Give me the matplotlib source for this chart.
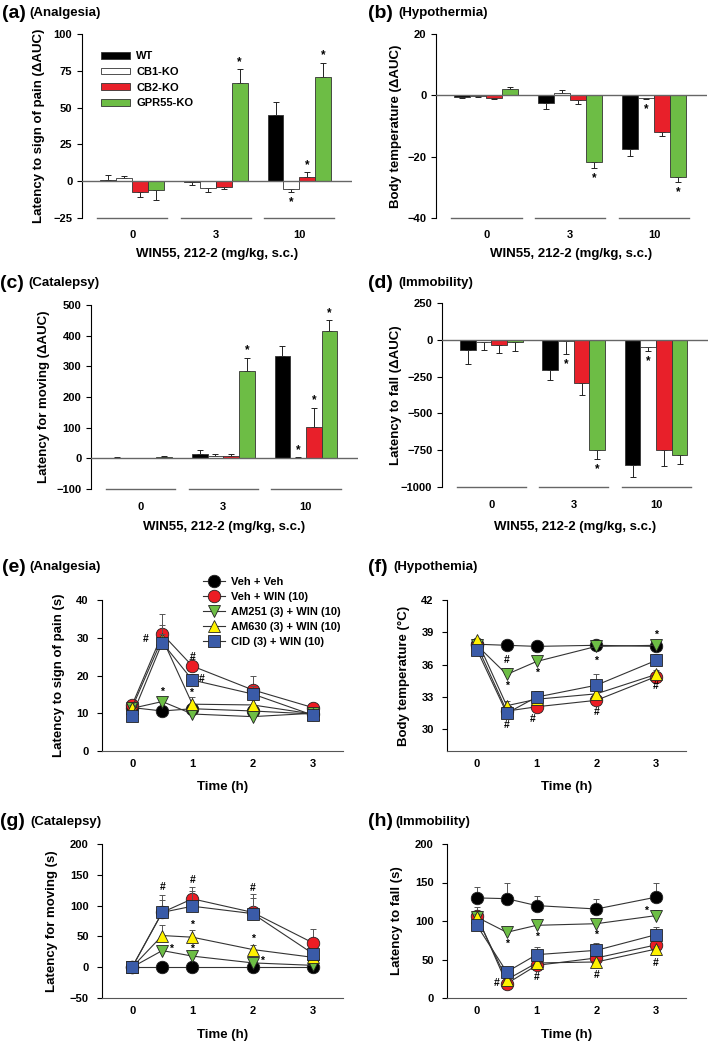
import numpy as np
import matplotlib
matplotlib.use("Agg")
from matplotlib import pyplot as plt

plt.rcParams['font.family'] = ['Liberation Sans', 'DejaVu Sans']
plt.rcParams['font.weight'] = 'bold'
plt.rcParams['axes.labelweight'] = 'bold'

W, H = 709, 1046

# ---- bar panels (a-d): doses 0, 3, 10 mg/kg ----
doses = ['0', '3', '10']
genotypes = ['WT', 'CB1-KO', 'CB2-KO', 'GPR55-KO']
bar_colors = ['black', 'white', '#E8202A', '#6DBD45']

a_vals = [[0.5, -0.5, 45], [2, -4.5, -5], [-7.5, -4, 3], [-6, 67, 71]]
a_errs = [[3.5, 2, 9], [1.5, 3, 2], [3.2, 1.5, 3], [6.7, 9, 9.5]]
a_stars = [(3, 1), (1, 2), (2, 2), (3, 2)]

b_vals = [[-0.5, -2.5, -17.5], [-0.3, 0.8, -0.8], [-1.0, -1.5, -11.8], [2.2, -21.7, -26.5]]
b_errs = [[0.5, 1.9, 2.2], [0.4, 1.0, 0.5], [0.3, 1.2, 1.4], [0.6, 2.0, 1.9]]
b_stars = [(3, 1), (1, 2), (3, 2)]

c_vals = [[2, 14, 335], [1, 8, 2], [1, 9, 102], [4, 285, 415]]
c_errs = [[2, 12, 30], [1, 6, 1], [1, 6, 63], [4, 43, 35]]
c_stars = [(3, 1), (1, 2), (2, 2), (3, 2)]

d_vals = [[-68, -208, -848], [-18, -8, -50], [-36, -294, -751], [-18, -751, -783]]
d_errs = [[99, 63, 84], [52, 89, 29], [54, 84, 109], [59, 59, 59]]
d_stars = [(1, 1), (3, 1), (1, 2)]

# ---- time-course panels (e-h) ----
times = [0, 0.5, 1, 2, 3]
groups = ['Veh + Veh', 'Veh + WIN (10)', 'AM251 (3) + WIN (10)',
          'AM630 (3) + WIN (10)', 'CID (3) + WIN (10)']
grp_colors = ['black', '#EC1C24', '#6DBE45', '#FFF200', '#3A5BA8']
grp_markers = ['o', 'o', 'v', '^', 's']

e_vals = [[11.5, 10.6, 11.2, 10.6, 9.8], [12.2, 31.0, 22.5, 16.2, 11.5],
          [11.3, 13.1, 9.8, 9.1, 10.0], [11.5, 29.8, 12.4, 12.2, 9.8],
          [9.4, 28.7, 18.8, 15.1, 9.5]]
e_errs = [[0.8, 0.8, 0.8, 0.8, 0.5], [1, 5.2, 1.8, 3.7, 0.8],
          [0.8, 1.3, 0.8, 0.5, 0.5], [0.8, 3.5, 2.0, 1.5, 0.5],
          [0.6, 2.2, 1.6, 2.0, 0.5]]
e_notes = [(0.22, 29.6, '#'), (0.5, 15.7, '*'), (1.0, 24.8, '#'),
           (1.15, 19.2, '#'), (0.97, 15.4, '*')]

f_vals = [[37.9, 37.8, 37.7, 37.8, 37.7], [37.8, 31.7, 32.1, 32.7, 34.9],
          [37.8, 35.1, 36.3, 37.7, 37.8], [38.3, 32.2, 32.8, 33.3, 35.1],
          [37.4, 31.5, 33.0, 34.1, 36.4]]
f_errs = [[0.2, 0.2, 0.2, 0.2, 0.2], [0.2, 0.4, 0.4, 0.4, 0.3],
          [0.2, 0.6, 0.3, 0.2, 0.2], [0.2, 0.4, 0.5, 0.5, 0.4],
          [0.2, 0.4, 0.6, 1.0, 0.6]]
f_notes = [(0.5, 36.4, '#'), (0.5, 34.0, '*'), (1.0, 35.2, '*'), (2.0, 36.4, '*'),
           (3.0, 38.8, '*'), (0.5, 30.4, '#'), (0.93, 31.0, '#'), (2.0, 31.6, '#'),
           (3.0, 34.0, '#')]

g_vals = [[0, 0, 0, 0, 0], [0, 89, 111, 89, 39.5], [0, 27, 18, 7, 3],
          [0, 51.4, 48.7, 28.7, 16], [0, 89, 99, 87, 22]]
g_errs = [[0, 0, 0, 0, 0], [0, 20, 19, 30, 23], [0, 7, 5, 3, 2],
          [0, 17, 12, 8, 4], [0, 29, 25, 25, 5]]
g_notes = [(0.5, 130, '#'), (1.0, 141, '#'), (2.0, 128, '#'), (1.0, 68, '*'),
           (0.65, 30, '*'), (1.0, 30, '*'), (2.0, 46, '*'), (2.15, 11, '*')]

h_vals = [[130, 129, 120, 115.6, 131], [107, 18.6, 42.4, 52, 69],
          [105, 85.3, 94.4, 96.5, 107], [105, 23.8, 45.5, 46.8, 63.6],
          [94.4, 33.8, 56.3, 61.9, 82.3]]
h_errs = [[14, 20, 13, 13, 18], [11, 3, 4, 4, 4], [4, 4, 8.6, 3, 7.7],
          [4, 3, 4, 4, 4], [5, 4, 9.5, 9.5, 9.5]]
h_notes = [(0.5, 70, '*'), (1.0, 80, '*'), (2.0, 82, '*'), (2.83, 113, '*'),
           (0.33, 20, '#'), (1.0, 27, '#'), (2.0, 30, '#'), (3.0, 46, '#')]


def box(l, t, r, b):
    return [l / W, 1 - b / H, (r - l) / W, (b - t) / H]


fig = plt.figure(figsize=(W / 100, H / 100), dpi=100)


def bar_panel(rect, vals, errs, stars, ylim, yticks, ylabel, ylab_px, xlab_px):
    ax = fig.add_axes(box(*rect))
    x = np.arange(3)
    w = 0.19
    for i in range(4):
        v = np.array(vals[i], float)
        e = np.array(errs[i], float)
        xs = x + (i - 1.5) * w
        ax.bar(xs, v, w, color=bar_colors[i], edgecolor='#333333', lw=0.6, zorder=2)
        up = np.where(v >= 0, e, 0)
        lo = np.where(v < 0, e, 0)
        ax.errorbar(xs, v, yerr=[lo, up], fmt='none', ecolor='#222222',
                    elinewidth=0.7, capsize=2.5, capthick=0.7, zorder=1)
    for gi, di in stars:
        v = vals[gi][di]
        e = errs[gi][di]
        xs = x[di] + (gi - 1.5) * w
        if v >= 0:
            ax.annotate('*', (xs, v + e), xytext=(0, 1), textcoords='offset points',
                        ha='center', va='bottom', fontsize=8.5)
        else:
            ax.annotate('*', (xs, v - e), xytext=(0, -3), textcoords='offset points',
                        ha='center', va='top', fontsize=8.5)
    ax.axhline(0, color='#666666', lw=1, zorder=3)
    for c in x:
        ax.plot([c - 0.42, c + 0.42], [ylim[0], ylim[0]], color='#666666', lw=1,
                clip_on=False)
    ax.set_xlim(-0.6, 2.63)
    ax.set_ylim(*ylim)
    ax.set_yticks(yticks)
    ax.set_xticks(x, doses)
    ax.tick_params(axis='x', length=0, pad=9, labelsize=8)
    ax.tick_params(axis='y', direction='out', length=3.5, width=0.8, labelsize=8)
    for s in ['top', 'right', 'bottom']:
        ax.spines[s].set_visible(False)
    ax.spines['left'].set_linewidth(0.8)
    ax.set_ylabel(ylabel, fontsize=9.5)
    ax.yaxis.set_label_coords((ylab_px - rect[0]) / (rect[2] - rect[0]), 0.5)
    ax.set_xlabel('WIN55, 212-2 (mg/kg, s.c.)', fontsize=9.5)
    ax.xaxis.set_label_coords(0.5, (rect[3] - xlab_px + 7) / (rect[3] - rect[1]))
    return ax


def line_panel(rect, vals, errs, notes, ylim, yticks, ylabel, ylab_px, xlab_px):
    ax = fig.add_axes(box(*rect))
    t = np.array(times)
    lines = []
    for i in range(5):
        v = np.array(vals[i], float)
        e = np.array(errs[i], float)
        ax.errorbar(t, v, yerr=[np.zeros_like(e), e], fmt='none', ecolor='#555555',
                    elinewidth=0.7, capsize=2.5, capthick=0.7, zorder=1 + i)
        ms = 8 if grp_markers[i] == 's' else 9
        ln, = ax.plot(t, v, '-', color='#333333', lw=0.8, marker=grp_markers[i],
                      ms=ms, mfc=grp_colors[i], mec='#222222', mew=0.6,
                      zorder=2 + i, clip_on=False)
        lines.append(ln)
    for tx, ty, s in notes:
        ax.text(tx, ty, s, ha='center', va='center', fontsize=7.5)
    ax.set_xlim(-0.5, 3.5)
    ax.set_ylim(*ylim)
    ax.set_yticks(yticks)
    ax.set_xticks([0, 1, 2, 3])
    ax.tick_params(direction='out', length=0, width=0.8, labelsize=8, pad=6)
    ax.tick_params(axis='y', length=3.5)
    for s in ['top', 'right']:
        ax.spines[s].set_visible(False)
    ax.spines['left'].set_linewidth(0.8)
    ax.spines['bottom'].set_linewidth(0.8)
    ax.spines['bottom'].set_color('#555555')
    ax.set_ylabel(ylabel, fontsize=9.5)
    ax.yaxis.set_label_coords((ylab_px - rect[0]) / (rect[2] - rect[0]), 0.5)
    ax.set_xlabel('Time (h)', fontsize=9.5)
    ax.xaxis.set_label_coords(0.5, (rect[3] - xlab_px + 7) / (rect[3] - rect[1]))
    return ax, lines


ax_a = bar_panel((82, 34, 352, 218), a_vals, a_errs, a_stars, (-25, 100),
                 [-25, 0, 25, 50, 75, 100], 'Latency to sign of pain (\u0394AUC)', 45, 255)
ax_b = bar_panel((436, 34, 707, 218), b_vals, b_errs, b_stars, (-40, 20),
                 [-40, -20, 0, 20], 'Body temperature (\u0394AUC)', 402, 255)
ax_c = bar_panel((91, 305, 358, 489), c_vals, c_errs, c_stars, (-100, 500),
                 [-100, 0, 100, 200, 300, 400, 500], 'Latency for moving (\u0394AUC)', 50, 528)
ax_d = bar_panel((442, 303, 708, 487), d_vals, d_errs, d_stars, (-1000, 250),
                 [-1000, -750, -500, -250, 0, 250], 'Latency to fall (\u0394AUC)', 402, 528)

handles = ax_a.containers[0::2]
ax_a.legend(handles[:4], genotypes, loc='upper left', bbox_to_anchor=(0.07, 0.905),
            frameon=False, fontsize=8, handlelength=2.6, handleheight=0.55,
            labelspacing=0.5, borderpad=0, borderaxespad=0, handletextpad=0.6)

ax_e, lines_e = line_panel((102, 600, 343, 751), e_vals, e_errs, e_notes, (0, 40),
                           [0, 10, 20, 30, 40], 'Latency to sign of pain (s)', 65, 788)
ax_f, _ = line_panel((447, 600, 686, 751), f_vals, f_errs, f_notes, (28, 42),
                     [30, 33, 36, 39, 42], 'Body temperature (\u00b0C)', 410, 788)
ax_g, _ = line_panel((102, 844, 343, 998), g_vals, g_errs, g_notes, (-50, 200),
                     [-50, 0, 50, 100, 150, 200], 'Latency for moving (s)', 58, 1036)
ax_h, _ = line_panel((447, 844, 686, 998), h_vals, h_errs, h_notes, (0, 200),
                     [0, 50, 100, 150, 200], 'Latency to fall (s)', 403, 1036)

ax_e.legend(lines_e, groups, loc='upper left', bbox_to_anchor=(0.42, 1.15),
            frameon=False, fontsize=8, handlelength=2.0, labelspacing=0.45,
            borderpad=0, borderaxespad=0, handletextpad=0.5)

# panel letters
panels = [('(a)', '(Analgesia)', 2, 29, 13), ('(b)', '(Hypothermia)', 368, 398, 13),
          ('(c)', '(Catalepsy)', 0, 28, 283), ('(d)', '(Immobility)', 368, 398, 283),
          ('(e)', '(Analgesia)', 2, 29, 567), ('(f)', '(Hypothemia)', 368, 393, 567),
          ('(g)', '(Catalepsy)', 0, 30, 822), ('(h)', '(Immobility)', 368, 395, 822)]
for big, small, x1, x2, y in panels:
    fig.text(x1 / W, 1 - y / H, big, fontsize=14, weight='bold', va='center')
    fig.text(x2 / W, 1 - y / H, small, fontsize=9.5, weight='bold', va='center')

fig.savefig('out.png', dpi=100)
